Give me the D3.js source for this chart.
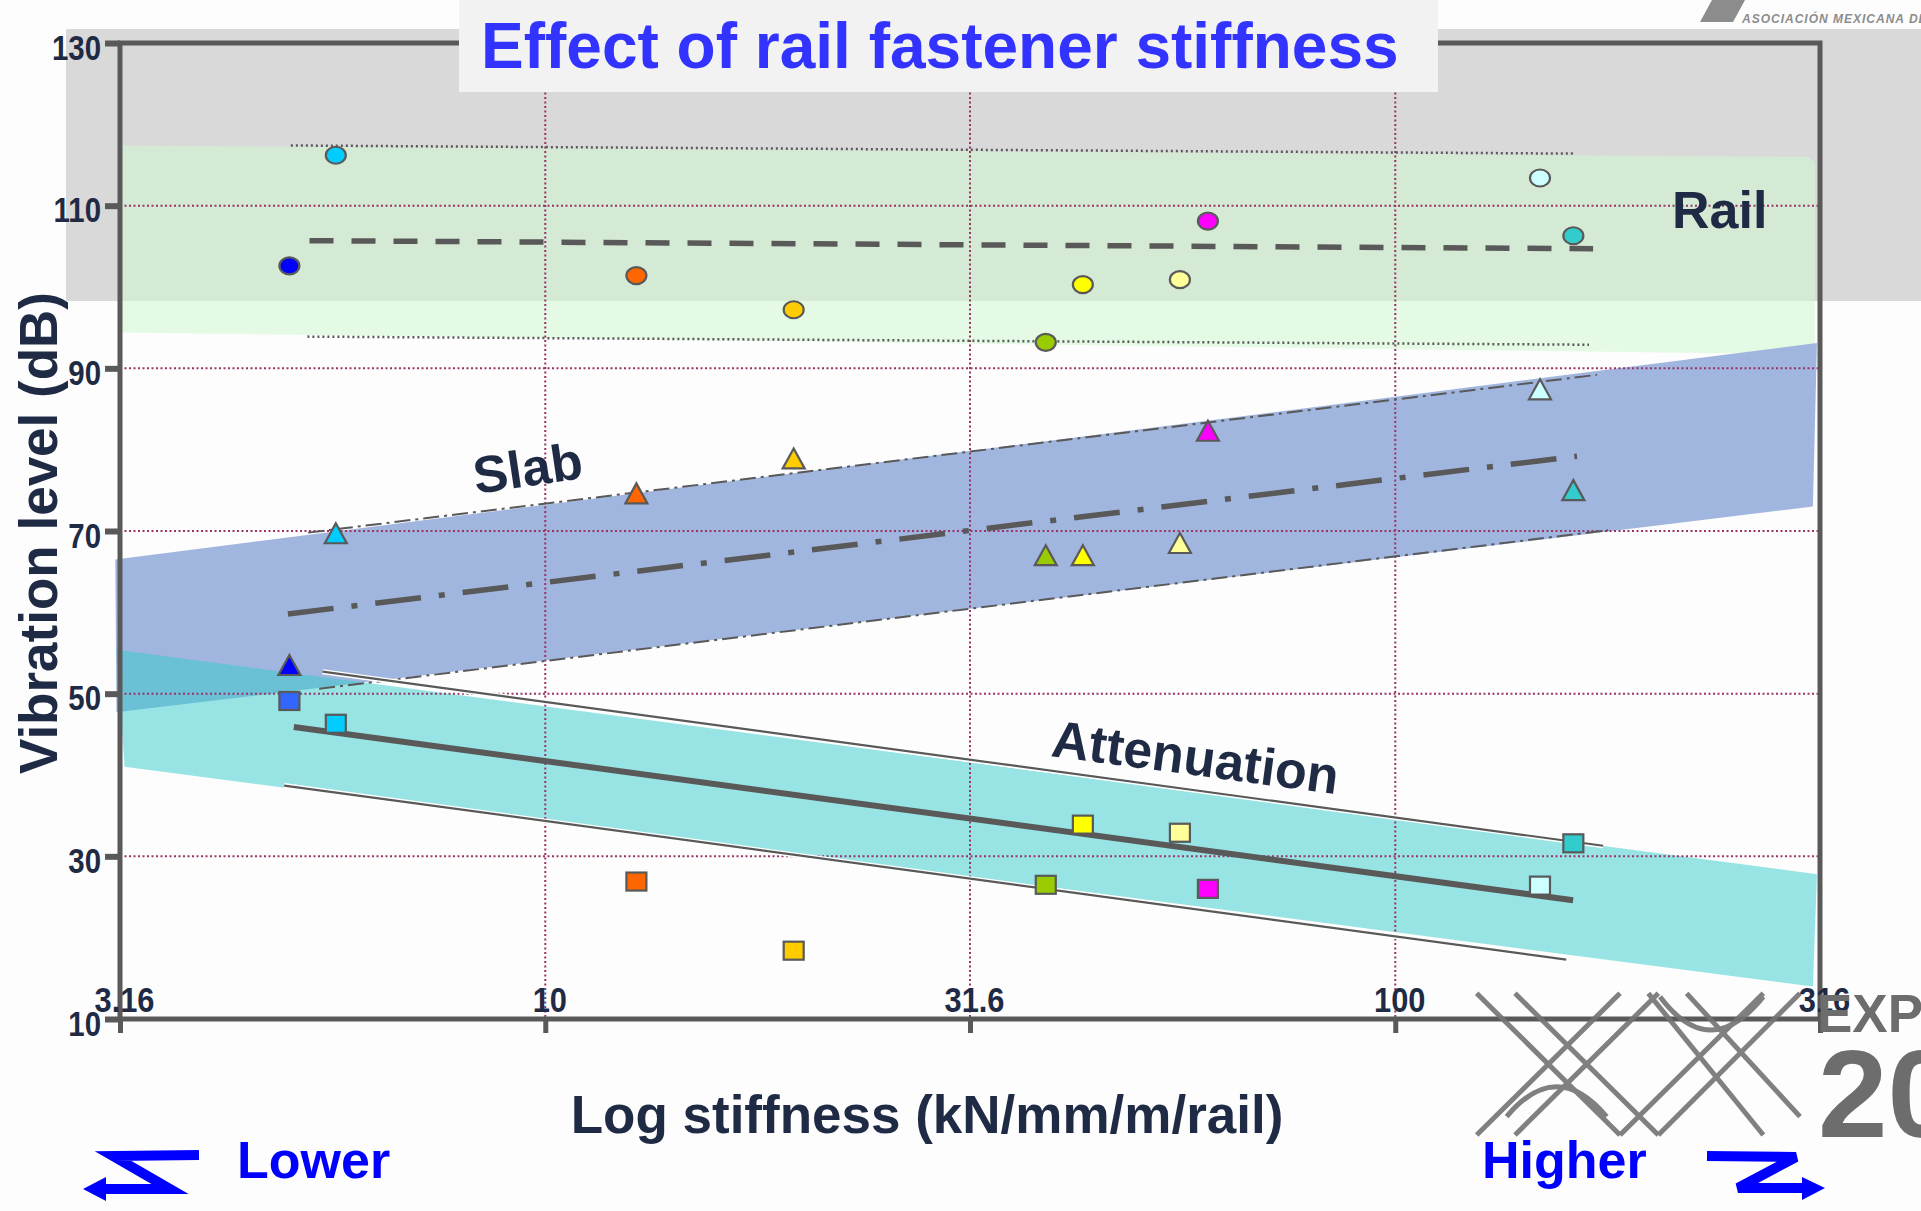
<!DOCTYPE html>
<html>
<head>
<meta charset="utf-8">
<script src="https://cdn.jsdelivr.net/npm/d3@7"></script>
<style>
  html, body { margin: 0; padding: 0; background: #fdfdfd; }
  svg { display: block; }
  text { font-family: "Liberation Sans", Arial, Helvetica, sans-serif; font-weight: bold; }
</style>
</head>
<body>
<svg id="chart" width="1921" height="1211"></svg>
<script>
// ---------------- data ----------------
const title = "Effect of rail fastener stiffness";
const xTickValues = [3.16, 10, 31.6, 100, 316];
const xTickLabels = ["3.16", "10", "31.6", "100", "316"];
const yTickValues = [10, 30, 50, 70, 90, 110, 130];

// fastener stiffness (kN/mm/m/rail) of each tested fastener
const stiffness   = [5.0, 5.67, 12.8, 19.6, 38.8, 42.9, 55.8, 60.2, 148, 162];
// vibration levels (dB)
const railLevel   = [102.6, 116.2, 101.4, 97.2, 93.2, 100.3, 100.9, 108.1, 113.4, 106.3];
const slabLevel   = [53.4, 69.6, 74.5, 78.8, 66.9, 66.9, 68.4, 82.2, 87.3, 74.9];
const attenLevel  = [49.1, 46.3, 26.9, 18.4, 26.5, 33.9, 32.9, 26.0, 26.4, 31.6];

const pointColors  = ["#0000ff", "#00ccff", "#ff6600", "#ffcc00", "#99cc00", "#ffff00", "#ffff99", "#ff00ff", "#ccffff", "#33cccc"];
const squareColors = ["#3366ff", "#00ccff", "#ff6600", "#ffcc00", "#99cc00", "#ffff00", "#ffff99", "#ff00ff", "#ccffff", "#33cccc"];

// trend lines [stiffness, dB]
const railMean   = [[5.28, 105.7], [170.9, 104.7]];
const railUpper  = [[5.02, 117.4], [161.9, 116.4]];
const railLower  = [[5.25, 93.9], [169.0, 92.9]];
const slabMean   = [[4.98, 59.8], [163.6, 79.2]];
const slabUpper  = [[5.26, 69.8], [172.7, 89.2]];
const slabLower  = [[5.42, 50.6], [178.0, 70.1]];
const attenMean  = [[5.06, 45.9], [161.9, 24.6]];
const attenUpper = [[5.47, 52.7], [175.6, 31.3]];
const attenLower = [[4.93, 38.7], [158.9, 17.3]];

// shaded bands [stiffness, dB]
const railBand  = [[3.16, 117.4], [306, 116.0], [311.7, 115.2], [311.7, 91.7], [3.16, 94.4]];
const slabBand  = [[3.12, 66.5], [313.4, 93.1], [310.0, 73.0], [3.13, 47.7]];
const attenBand = [[3.13, 55.4], [313.4, 27.8], [310.0, 14.0], [3.2, 41.0]];

// ---------------- chart ----------------
const svg = d3.select("#chart");
const x = d3.scaleLog().domain([3.16, 316]).range([120, 1820]);
const y = d3.scaleLinear().domain([10, 130]).range([1019, 43]);
const AX = "#595959", NAVY = "#1f2a44";

// grey background panel
svg.append("rect").attr("x", 66).attr("y", 29).attr("width", 1921 - 66).attr("height", 272).attr("fill", "#d9d9d9");

const line = d3.line().x(d => x(d[0])).y(d => y(d[1]));
const poly = pts => line(pts) + "Z";

// bands
svg.append("path").attr("d", poly(railBand)).attr("fill", "rgb(208,248,208)").attr("fill-opacity", 0.553);
svg.append("path").attr("d", poly(slabBand)).attr("fill", "#a1b6de");
svg.append("path").attr("d", poly(attenBand)).attr("fill", "#33cccc").attr("fill-opacity", 0.5);

// grid
const grid = svg.append("g").attr("stroke", "#993366").attr("stroke-width", 2).attr("stroke-dasharray", "2,2.5");
[30, 50, 70, 90, 110].forEach(v => grid.append("line").attr("x1", x(3.16)).attr("x2", x(316)).attr("y1", y(v)).attr("y2", y(v)));
[10, 31.6, 100].forEach(v => grid.append("line").attr("x1", x(v)).attr("x2", x(v)).attr("y1", y(130)).attr("y2", y(10)));

// trend lines
function trend(pts, w, dash) {
  const p = svg.append("path").attr("d", line(pts)).attr("fill", "none").attr("stroke", AX).attr("stroke-width", w);
  if (dash) p.attr("stroke-dasharray", dash);
  return p;
}
trend(railUpper, 2.5, "2,3");
trend(railLower, 2.5, "2,3");
trend(railMean, 5.5, "24,18");
trend(slabUpper, 2, "16,5,3,5");
trend(slabLower, 2, "16,5,3,5");
trend(slabMean, 5.5, "46,18,6,18");
svg.append("path").attr("d", line(attenUpper)).attr("fill", "none").attr("stroke", "#fff").attr("stroke-width", 5);
svg.append("path").attr("d", line(attenLower)).attr("fill", "none").attr("stroke", "#fff").attr("stroke-width", 5);
trend(attenUpper, 2.2, null);
trend(attenLower, 2.2, null);
trend(attenMean, 6, null);

// markers
const mk = svg.append("g").attr("stroke", AX).attr("stroke-width", 2.2);
stiffness.forEach((s, i) => {
  mk.append("ellipse").attr("cx", x(s)).attr("cy", y(railLevel[i])).attr("rx", 10).attr("ry", 8.5).attr("fill", pointColors[i]);
  const tx = x(s), ty = y(slabLevel[i]);
  mk.append("path").attr("d", `M${tx},${ty - 11}L${tx + 11},${ty + 9}L${tx - 11},${ty + 9}Z`).attr("fill", pointColors[i]);
  mk.append("rect").attr("x", x(s) - 10).attr("y", y(attenLevel[i]) - 9).attr("width", 20).attr("height", 18).attr("fill", squareColors[i]);
});

// frame
svg.append("rect").attr("x", x(3.16)).attr("y", y(130)).attr("width", x(316) - x(3.16)).attr("height", y(10) - y(130))
  .attr("fill", "none").attr("stroke", AX).attr("stroke-width", 5);

// axes
const yAxis = svg.append("g").attr("transform", `translate(${x(3.16)},0)`)
  .call(d3.axisLeft(y).tickValues(yTickValues).tickFormat(d3.format("d")).tickSize(15).tickSizeOuter(0).tickPadding(4));
yAxis.select(".domain").remove();
yAxis.selectAll(".tick line").attr("stroke", AX).attr("stroke-width", 6);
yAxis.selectAll(".tick text").attr("fill", NAVY).attr("font-size", 35)
  .attr("x", 0).attr("transform", "translate(-19,5) scale(0.84,1)");

const xAxis = svg.append("g").attr("transform", `translate(0,${y(10)})`)
  .call(d3.axisBottom(x).tickValues(xTickValues).tickFormat((d, i) => xTickLabels[i]).tickSize(14).tickSizeOuter(0));
xAxis.select(".domain").remove();
xAxis.selectAll(".tick line").attr("stroke", AX).attr("stroke-width", 5);
xAxis.selectAll(".tick text").attr("fill", NAVY).attr("font-size", 35)
  .attr("y", 0).attr("dy", 0).attr("transform", "translate(4,-7) scale(0.88,1)");

// title box
svg.append("rect").attr("x", 459).attr("y", 0).attr("width", 979).attr("height", 92).attr("fill", "#f2f2f2");
svg.append("text").attr("x", 481).attr("y", 68).attr("font-size", 64).attr("fill", "#3333ff").text(title);

// labels
svg.append("text").attr("x", 1672).attr("y", 228).attr("font-size", 52).attr("fill", NAVY).text("Rail");
svg.append("text").attr("transform", "translate(476,494) rotate(-8.5)").attr("font-size", 52).attr("fill", NAVY).text("Slab");
svg.append("text").attr("transform", "translate(1050,756) rotate(7.6)").attr("font-size", 52).attr("fill", NAVY).text("Attenuation");

svg.append("text").attr("transform", "translate(57,533) rotate(-90)").attr("text-anchor", "middle")
  .attr("font-size", 53).attr("fill", NAVY).text("Vibration level (dB)");
svg.append("text").attr("x", 927).attr("y", 1133).attr("text-anchor", "middle")
  .attr("font-size", 53).attr("fill", NAVY).text("Log stiffness (kN/mm/m/rail)");

// Lower / Higher
svg.append("text").attr("x", 237).attr("y", 1178).attr("font-size", 52).attr("fill", "#0000ff").text("Lower");
svg.append("text").attr("x", 1482).attr("y", 1178).attr("font-size", 52).attr("fill", "#0000ff").text("Higher");
const arr = svg.append("g");
arr.append("path").attr("d", "M199,1155L113,1156L170,1189L104,1189").attr("fill", "none").attr("stroke", "#0000ff").attr("stroke-width", 10);
arr.append("path").attr("d", "M83,1189L106,1177L106,1201Z").attr("fill", "#0000ff");
arr.append("path").attr("d", "M1707,1156L1796,1157L1738,1188L1805,1188").attr("fill", "none").attr("stroke", "#0000ff").attr("stroke-width", 10);
arr.append("path").attr("d", "M1825,1188L1802,1177L1802,1200Z").attr("fill", "#0000ff");

// watermark logos
const lg = svg.append("g").attr("stroke", "#737373").attr("stroke-width", 5).attr("fill", "none").attr("opacity", 0.9);
const zx = v => 1400 + v / 3, zy = v => 850 + v / 3;
[[230, 430, 660, 855], [345, 430, 775, 855], [660, 430, 230, 855], [775, 430, 345, 855],
 [745, 430, 1090, 855], [860, 430, 1200, 800], [1090, 430, 660, 855], [1200, 430, 775, 855]].forEach(l =>
  lg.append("line").attr("x1", zx(l[0])).attr("y1", zy(l[1])).attr("x2", zx(l[2])).attr("y2", zy(l[3])));
lg.append("path").attr("d", `M${zx(780)},${zy(440)}Q${zx(930)},${zy(640)} ${zx(1090)},${zy(440)}`);
lg.append("path").attr("d", `M${zx(320)},${zy(800)}Q${zx(470)},${zy(620)} ${zx(620)},${zy(800)}`);
svg.append("text").attr("x", 1817).attr("y", 1032).attr("font-size", 53).attr("fill", "#6d6d6d").text("EXPO");
svg.append("text").attr("x", 1818).attr("y", 1137).attr("font-size", 125).attr("fill", "#6d6d6d").text("2010");
svg.append("path").attr("d", "M1712,0L1745,0L1733,22L1700,22Z").attr("fill", "#8c8c8c");
svg.append("text").attr("x", 1742).attr("y", 23).attr("font-size", 12).attr("font-style", "italic")
  .attr("letter-spacing", 1).attr("fill", "#8c8c8c").text("ASOCIACIÓN MEXICANA DE FERROCARRILES");
</script>
</body>
</html>
